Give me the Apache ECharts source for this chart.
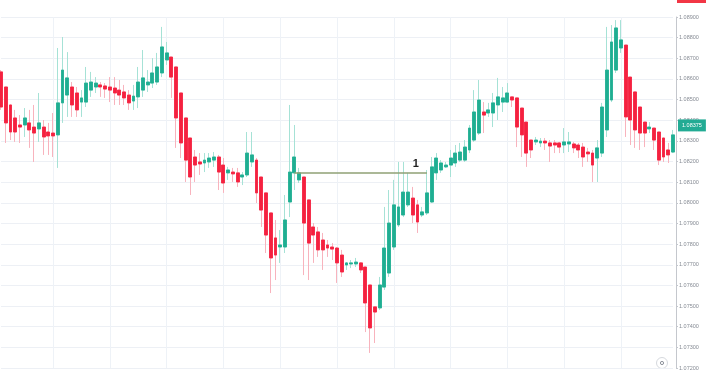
<!DOCTYPE html>
<html>
<head>
<meta charset="utf-8">
<script src="https://cdn.jsdelivr.net/npm/echarts@6/dist/echarts.min.js"></script>
<style>
html,body{margin:0;padding:0;background:#fff;}
#c{width:706px;height:381px;}
</style>
</head>
<body>
<div id="c"></div>
<script>
// ---- data (EUR/USD style candles) ----
const opens = [
1.08634,1.08561,1.08474,1.08411,1.08377,1.08377,1.08387,1.08367,1.08358,1.08367,
1.08343,1.08338,1.08329,1.08484,1.08522,1.08561,1.08532,1.08488,1.08488,1.08546,
1.08561,1.08571,1.08566,1.08561,1.08556,1.08546,1.08537,1.08522,1.08493,1.08513,
1.08546,1.08571,1.08580,1.08585,1.08629,1.08692,1.08706,1.08658,1.08532,1.08411,
1.08314,1.08222,1.08198,1.08193,1.08198,1.08207,1.08222,1.08183,1.08145,1.08149,
1.08145,1.08125,1.08135,1.08198,1.08207,1.08125,1.08048,1.07951,1.07830,1.07786,
1.07786,1.08004,1.08145,1.08111,1.08125,1.08014,1.07883,1.07859,1.07820,1.07796,
1.07786,1.07781,1.07747,1.07699,1.07704,1.07704,1.07709,1.07689,1.07602,1.07496,
1.07491,1.07592,1.07660,1.07786,1.07893,1.07941,1.07990,1.08023,1.07990,1.07941,
1.07951,1.08004,1.08145,1.08159,1.08174,1.08183,1.08193,1.08207,1.08207,1.08256,
1.08304,1.08338,1.08440,1.08435,1.08435,1.08474,1.08488,1.08488,1.08513,1.08508,
1.08459,1.08391,1.08304,1.08295,1.08290,1.08299,1.08290,1.08290,1.08290,1.08280,
1.08285,1.08285,1.08280,1.08270,1.08246,1.08241,1.08217,1.08241,1.08353,1.08498,
1.08643,1.08750,1.08764,1.08609,1.08537,1.08464,1.08391,1.08358,1.08362,1.08343,
1.08314,1.08256,1.08246];
const closes = [
1.08464,1.08387,1.08343,1.08343,1.08367,1.08411,1.08353,1.08338,1.08387,1.08319,
1.08324,1.08324,1.08484,1.08643,1.08605,1.08474,1.08450,1.08508,1.08580,1.08585,
1.08580,1.08561,1.08551,1.08546,1.08532,1.08522,1.08508,1.08484,1.08517,1.08585,
1.08605,1.08585,1.08629,1.08658,1.08755,1.08726,1.08609,1.08411,1.08290,1.08207,
1.08125,1.08183,1.08188,1.08207,1.08217,1.08222,1.08149,1.08096,1.08159,1.08140,
1.08101,1.08135,1.08241,1.08232,1.08048,1.07965,1.07844,1.07733,1.07747,1.07796,
1.07917,1.08149,1.08222,1.08145,1.07902,1.07805,1.07844,1.07772,1.07772,1.07781,
1.07776,1.07709,1.07665,1.07709,1.07709,1.07713,1.07675,1.07515,1.07394,1.07471,
1.07602,1.07781,1.07902,1.07990,1.07980,1.08052,1.08052,1.07941,1.07907,1.07956,
1.08048,1.08174,1.08217,1.08193,1.08183,1.08217,1.08241,1.08246,1.08270,1.08362,
1.08440,1.08498,1.08425,1.08450,1.08484,1.08513,1.08508,1.08532,1.08498,1.08367,
1.08329,1.08241,1.08256,1.08304,1.08299,1.08290,1.08275,1.08280,1.08270,1.08295,
1.08295,1.08266,1.08256,1.08222,1.08237,1.08183,1.08266,1.08464,1.08643,1.08779,
1.08847,1.08789,1.08416,1.08401,1.08353,1.08338,1.08338,1.08367,1.08304,1.08207,
1.08222,1.08232,1.08329];
const lows = [
1.08450,1.08290,1.08304,1.08295,1.08290,1.08319,1.08266,1.08198,1.08295,1.08232,
1.08232,1.08222,1.08169,1.08387,1.08416,1.08416,1.08416,1.08416,1.08464,1.08513,
1.08532,1.08513,1.08508,1.08488,1.08474,1.08474,1.08474,1.08450,1.08450,1.08459,
1.08513,1.08537,1.08556,1.08571,1.08609,1.08668,1.08508,1.08266,1.08217,1.08101,
1.08038,1.08101,1.08135,1.08149,1.08169,1.08174,1.08062,1.08048,1.08111,1.08101,
1.08077,1.08086,1.08125,1.08174,1.07999,1.07883,1.07757,1.07563,1.07626,1.07709,
1.07757,1.07931,1.08062,1.08096,1.07650,1.07626,1.07709,1.07738,1.07675,1.07738,
1.07723,1.07612,1.07641,1.07675,1.07684,1.07689,1.07660,1.07374,1.07273,1.07321,
1.07481,1.07578,1.07641,1.07772,1.07883,1.07931,1.07980,1.07902,1.07854,1.07931,
1.07941,1.07999,1.08111,1.08145,1.08169,1.08125,1.08174,1.08198,1.08198,1.08241,
1.08295,1.08329,1.08338,1.08416,1.08367,1.08401,1.08440,1.08484,1.08464,1.08270,
1.08222,1.08174,1.08217,1.08280,1.08270,1.08256,1.08198,1.08241,1.08241,1.08241,
1.08246,1.08241,1.08217,1.08174,1.08198,1.08101,1.08101,1.08222,1.08319,1.08488,
1.08629,1.08726,1.08319,1.08280,1.08266,1.08256,1.08270,1.08338,1.08256,1.08183,
1.08198,1.08193,1.08241];
const highs = [
1.08643,1.08561,1.08474,1.08450,1.08425,1.08459,1.08450,1.08474,1.08532,1.08401,
1.08387,1.08435,1.08750,1.08803,1.08730,1.08585,1.08561,1.08546,1.08658,1.08634,
1.08609,1.08585,1.08580,1.08609,1.08609,1.08595,1.08571,1.08546,1.08571,1.08658,
1.08740,1.08643,1.08701,1.08726,1.08852,1.08779,1.08706,1.08658,1.08532,1.08411,
1.08314,1.08256,1.08241,1.08241,1.08241,1.08246,1.08232,1.08217,1.08174,1.08169,
1.08169,1.08149,1.08343,1.08343,1.08217,1.08125,1.08048,1.07951,1.07917,1.07868,
1.08038,1.08474,1.08377,1.08169,1.08125,1.08014,1.07902,1.07883,1.07854,1.07820,
1.07805,1.07786,1.07772,1.07713,1.07723,1.07733,1.07713,1.07689,1.07602,1.07496,
1.07641,1.07980,1.08062,1.08111,1.08198,1.08198,1.08145,1.08077,1.08014,1.07980,
1.08159,1.08222,1.08241,1.08207,1.08198,1.08256,1.08280,1.08290,1.08304,1.08377,
1.08546,1.08595,1.08488,1.08484,1.08532,1.08605,1.08561,1.08580,1.08513,1.08508,
1.08459,1.08391,1.08304,1.08319,1.08314,1.08314,1.08304,1.08304,1.08295,1.08362,
1.08343,1.08295,1.08290,1.08290,1.08266,1.08256,1.08304,1.08484,1.08852,1.08861,
1.08885,1.08885,1.08764,1.08609,1.08537,1.08464,1.08391,1.08391,1.08362,1.08343,
1.08314,1.08290,1.08353];
const categories = opens.map((_, i) => String(i + 1));

// horizontal level line "1"
const levelLabel = '1';
const levelPrice = 1.08145;
const levelStartIdx = 62;
const levelEndIdx = 90;

// current price tag
const currentPrice = 1.08375;

// y axis ticks
const yMin = 1.072, yMax = 1.089, yStep = 0.001;

// ---- styles ----
const UP = '#1fae92', DOWN = '#f5213f';
const UP_WICK = '#a6e2d6', DOWN_WICK = '#f8b3bd';

const wickData = opens.map((o, i) => [o, closes[i], lows[i], highs[i]]);
const bodyData = opens.map((o, i) => [o, closes[i], Math.min(o, closes[i]), Math.max(o, closes[i])]);
const lastCat = categories[categories.length - 1];
const prevCat = categories[categories.length - 2];

const chart = echarts.init(document.getElementById('c'));
chart.setOption({
  animation: false,
  backgroundColor: '#ffffff',
  grid: { left: 1, right: 33, top: 17, bottom: 13 },
  xAxis: {
    type: 'category',
    data: categories,
    boundaryGap: false,
    axisLine: { show: false },
    axisTick: { show: false },
    axisLabel: { show: false },
    splitLine: {
      show: true,
      interval: (idx) => idx % 12 === 11,
      lineStyle: { color: '#eef2f7', width: 1 }
    }
  },
  yAxis: {
    type: 'value',
    position: 'right',
    offset: 3,
    min: yMin, max: yMax, interval: yStep,
    axisLine: { show: true, lineStyle: { color: '#c4c7cd', width: 1 } },
    axisTick: { show: true, length: 2, lineStyle: { color: '#c4c7cd' } },
    axisLabel: {
      margin: 3,
      fontSize: 5.5,
      color: '#868b94',
      fontFamily: 'Liberation Sans, Arial, sans-serif',
      formatter: (v) => v.toFixed(5)
    },
    splitLine: { show: true, lineStyle: { color: '#edf0f5', width: 1 } }
  },
  series: [
    {
      name: 'wicks',
      type: 'candlestick',
      data: wickData,
      barWidth: 3.4,
      clip: false,
      silent: true,
      itemStyle: {
        color: UP_WICK, color0: DOWN_WICK,
        borderColor: UP_WICK, borderColor0: DOWN_WICK, borderWidth: 1
      }
    },
    {
      name: 'bodies',
      type: 'candlestick',
      data: bodyData,
      barWidth: 3.4,
      clip: false,
      silent: true,
      itemStyle: {
        color: UP, color0: DOWN,
        borderColor: UP, borderColor0: DOWN, borderWidth: 0.8
      },
      markLine: {
        silent: true,
        symbol: ['none', 'none'],
        animation: false,
        data: [
          [
            { coord: [categories[levelStartIdx], levelPrice],
              lineStyle: { color: '#8fa174', width: 1.6, type: 'solid' },
              label: {
                show: true, formatter: levelLabel, position: 'insideEndTop',
                distance: [8, 3], fontSize: 11, fontWeight: 'bold', color: '#1e1e1e',
                fontFamily: 'Liberation Sans, Arial, sans-serif'
              } },
            { coord: [categories[levelEndIdx], levelPrice] }
          ],
          [
            { coord: [prevCat, currentPrice],
              lineStyle: { color: 'rgba(0,0,0,0)', width: 0.01, type: 'solid' },
              label: {
                show: true, position: 'end', distance: 5,
                formatter: () => currentPrice.toFixed(5),
                backgroundColor: '#22ab94', color: '#ffffff',
                fontSize: 5.5, padding: [3, 4, 3, 4],
                fontFamily: 'Liberation Sans, Arial, sans-serif'
              } },
            { coord: [lastCat, currentPrice] }
          ]
        ]
      }
    }
  ],
  graphic: [
    { type: 'rect', shape: { x: 677, y: -6, width: 29, height: 9 }, style: { fill: '#f23645' }, silent: true },
    { type: 'circle', shape: { cx: 662, cy: 363, r: 5.5 }, style: { fill: '#ffffff', stroke: '#d6d9de', lineWidth: 1 }, silent: true },
    { type: 'circle', shape: { cx: 662, cy: 363, r: 1.6 }, style: { fill: 'none', stroke: '#8d929b', lineWidth: 1 }, silent: true }
  ]
});
</script>
</body>
</html>
